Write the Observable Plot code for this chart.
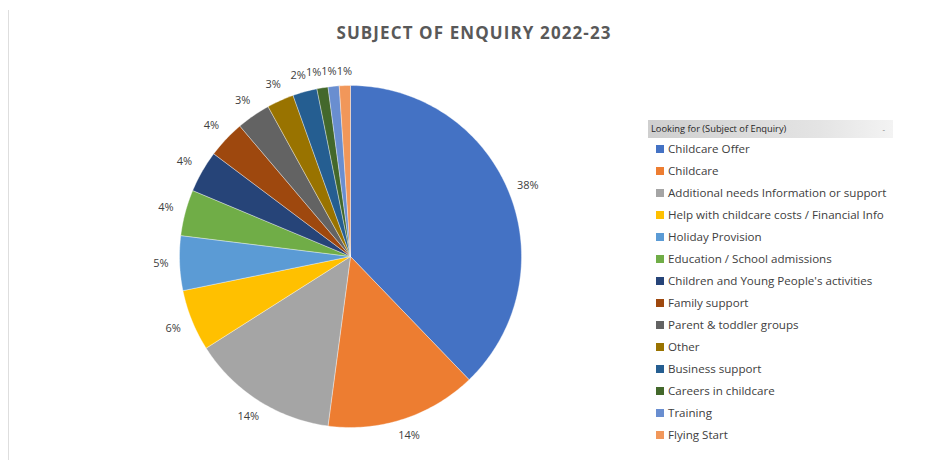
<!DOCTYPE html>
<html>
<head>
<meta charset="utf-8">
<script src="https://cdn.jsdelivr.net/npm/d3@7"></script>
<script src="https://cdn.jsdelivr.net/npm/@observablehq/plot@0.6"></script>
<style>
  html, body { margin: 0; padding: 0; background: #fff; }
  #wrap { position: relative; width: 932px; height: 460px; overflow: hidden; font-family: "Open Sans", sans-serif; }
  #frame { position: absolute; left: 8px; top: 10px; width: 1px; height: 450px; background: #dedede; }
  #title { position: absolute; left: 0; top: 0; width: 932px; height: 50px; text-align: center; }
  #title span { position: absolute; left: 474px; top: 32px; transform: translate(-50%, -50%); white-space: nowrap;
    font-weight: 700; font-size: 17px; letter-spacing: 1.1px; color: #595959; }
  #chart { position: absolute; left: 0; top: 50px; }
  #legend { position: absolute; left: 648px; top: 120px; width: 245px; }
  #legend .head { height: 18px; line-height: 18px; font-size: 9.3px; color: #262626; padding-left: 3px;
    background: linear-gradient(to right, #cfcfcf, #e4e4e4 70%, #f3f3f3); position: relative; }
  #legend .head .dash { position: absolute; right: 8px; top: 0; color: #777; font-size: 8px; }
  #legend .item { position: absolute; left: 8px; height: 22px; line-height: 22px; font-size: 11.6px; color: #404040; white-space: nowrap; }
  #legend .sw { display: inline-block; width: 8px; height: 8px; margin-right: 4px; vertical-align: middle; position: relative; top: -1px; }
</style>
</head>
<body>
<div id="wrap">
  <div id="frame"></div>
  <div id="title"><span>SUBJECT OF ENQUIRY 2022-23</span></div>
  <div id="chart"></div>
  <div id="legend"></div>
</div>
<script>
const categories = [
  "Childcare Offer",
  "Childcare",
  "Additional needs Information or support",
  "Help with childcare costs / Financial Info",
  "Holiday Provision",
  "Education  / School admissions",
  "Children and Young People's activities",
  "Family support",
  "Parent & toddler groups",
  "Other",
  "Business support",
  "Careers in childcare",
  "Training",
  "Flying Start"
];
const shares = [37.8, 14.3, 13.9, 5.8, 5.15, 4.35, 3.95, 3.55, 3.2, 2.55, 2.3, 1.05, 1.05, 1.05];
const colors = ["#4472C4", "#ED7D31", "#A5A5A5", "#FFC000", "#5B9BD5", "#70AD47", "#264478",
  "#9E480E", "#636363", "#997300", "#255E91", "#43682B", "#698ED0", "#F1975A"];
const legendTitle = "Looking for (Subject of Enquiry)";

const data = categories.map((c, i) => ({key: c, value: shares[i], label: Math.round(shares[i]) + "%"}));

// pie layout: start at 12 o'clock, clockwise, in data order
const pie = d3.pie().value(d => d.value).sort(null)(data);

// polygon points for each slice, in unit-circle coordinates (y up)
const slicePts = [];
for (const a of pie) {
  const k = a.data.key;
  slicePts.push({key: k, x: 0, y: 0});
  const n = Math.max(2, Math.ceil((a.endAngle - a.startAngle) / (Math.PI / 180)));
  for (let j = 0; j <= n; j++) {
    const t = a.startAngle + (a.endAngle - a.startAngle) * j / n;
    slicePts.push({key: k, x: Math.sin(t), y: Math.cos(t)});
  }
  slicePts.push({key: k, x: 0, y: 0});
}

// label positions (outside end), computed in pixels relative to the centre, then converted to unit radius
const R = 171;
const labels = pie.map(a => {
  const t = (a.startAngle + a.endAngle) / 2;
  const s = Math.sin(t), c = Math.cos(t);
  const hw = 12, hh = 7;
  const ext = Math.abs(s) * hw + Math.abs(c) * hh;
  const r = R + 6.5 + ext;
  return {px: s * r, py: -c * r, w: a.data.label.length * 6.2 + 2, text: a.data.label};
});
// simple collision pass (like Excel's best fit): walk counterclockwise from the top, push crowded labels left
for (let i = labels.length - 2; i >= 0; i--) {
  const cur = labels[i];
  if (cur.px >= 0) break;
  for (let j = i + 1; j < labels.length; j++) {
    const prev = labels[j];
    if (Math.abs(prev.py - cur.py) < 14) {
      const maxRight = prev.px - prev.w / 2 - 1;
      if (cur.px + cur.w / 2 > maxRight) cur.px = maxRight - cur.w / 2;
    }
  }
}
const labelPts = labels.map(d => ({x: d.px / R, y: -d.py / R, text: d.text}));

const cx = 350, cy = 206;
const plot = Plot.plot({
  width: 932,
  height: 410,
  margin: 0,
  x: {domain: [-1, 1], range: [cx - R, cx + R], axis: null},
  y: {domain: [-1, 1], range: [cy + R, cy - R], axis: null},
  color: {type: "ordinal", domain: categories, range: colors},
  style: {fontFamily: "'Open Sans', sans-serif", background: "transparent"},
  marks: [
    Plot.line(slicePts, {x: "x", y: "y", z: "key", fill: "key", stroke: "white", strokeWidth: 0.6, strokeOpacity: 0.6, curve: "linear"}),
    Plot.text(labelPts, {x: "x", y: "y", text: "text", fontSize: 11, fill: "#404040"})
  ]
});
document.getElementById("chart").appendChild(plot);

// legend built from Plot's color scale
const colorScale = plot.scale("color");
const leg = document.getElementById("legend");
const head = document.createElement("div");
head.className = "head";
head.innerHTML = legendTitle.replace(/&/g, "&amp;") + '<span class="dash">-</span>';
leg.appendChild(head);
categories.forEach((c, i) => {
  const it = document.createElement("div");
  it.className = "item";
  it.style.top = (18 + i * 22) + "px";
  const sw = document.createElement("span");
  sw.className = "sw";
  sw.style.background = colorScale.apply(c);
  it.appendChild(sw);
  it.appendChild(document.createTextNode(c));
  leg.appendChild(it);
});
</script>
</body>
</html>
